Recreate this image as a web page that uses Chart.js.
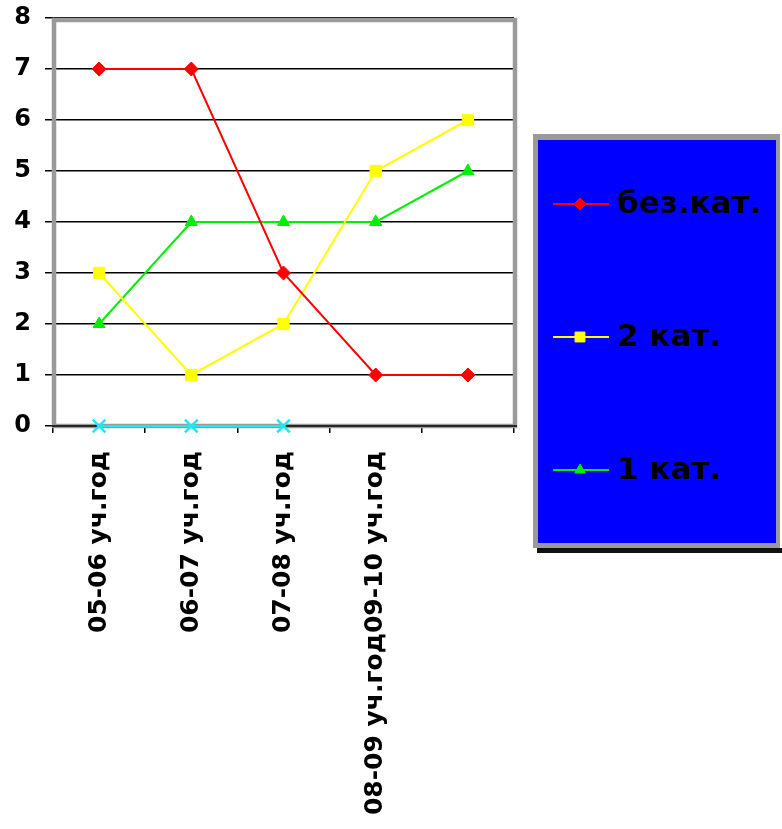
<!DOCTYPE html>
<html>
<head>
<meta charset="utf-8">
<script src="https://cdn.jsdelivr.net/npm/chart.js@4"></script>
<style>
  body { margin: 0; background: #fff; }
  canvas { display: block; }
</style>
</head>
<body>
<canvas id="chart" width="782" height="829"></canvas>
<script>
// data
const years = ['05-06 уч.год', '06-07 уч.год', '07-08 уч.год', '08-09 уч.год09-10 уч.год', ''];
const noCat = [7, 7, 3, 1, 1];
const cat2 = [3, 1, 2, 5, 6];
const cat1 = [2, 4, 4, 4, 5];
const extra = [0, 0, 0, null, null];
const seriesNames = ['без.кат.', '2 кат.', '1 кат.'];
const yMin = 0, yMax = 8, yStep = 1;

const FONT = '"DejaVu Sans", Verdana, sans-serif';

// grey frame round the plot area
const plotFrame = {
    id: 'plotFrame',
    beforeDatasetsDraw(chart) {
        const a = chart.chartArea;
        const ctx = chart.ctx;
        ctx.save();
        ctx.strokeStyle = '#9a9a9a';
        ctx.lineWidth = 4.5;
        ctx.strokeRect(a.left + 1, a.top + 2, a.right - a.left, a.bottom - a.top - 2);
        // axis line on top of the frame
        ctx.strokeStyle = '#000';
        ctx.lineWidth = 1.5;
        ctx.beginPath();
        ctx.moveTo(a.left - 1, a.bottom);
        ctx.lineTo(a.right + 3, a.bottom);
        ctx.stroke();
        ctx.restore();
    }
};

// blue legend box on the right
const sideLegend = {
    id: 'sideLegend',
    afterDraw(chart) {
        const ctx = chart.ctx;
        const box = { x: 533, y: 134, w: 247, h: 414 };
        ctx.save();
        ctx.fillStyle = '#111';
        ctx.fillRect(box.x + 4, box.y + box.h, box.w + 2, 5);
        ctx.fillStyle = '#9a9a9a';
        ctx.fillRect(box.x, box.y, box.w, box.h);
        ctx.fillStyle = '#0000ff';
        ctx.fillRect(box.x + 5, box.y + 6, box.w - 9, box.h - 11);
        for (let i = 0; i < seriesNames.length; i++) {
            const ds = chart.data.datasets[i];
            const cy = 204 + i * 133;
            ctx.strokeStyle = ds.borderColor;
            ctx.lineWidth = 2;
            ctx.beginPath();
            ctx.moveTo(553, cy);
            ctx.lineTo(609, cy);
            ctx.stroke();
            ctx.fillStyle = ds.pointBackgroundColor;
            ctx.strokeStyle = ds.pointBorderColor;
            ctx.lineWidth = 1;
            Chart.helpers.drawPoint(ctx, { pointStyle: ds.pointStyle, radius: ds.pointRadius - 1, rotation: 0, borderWidth: 1 }, 580, cy);
            ctx.fillStyle = '#000';
            ctx.font = 'bold 31px ' + FONT;
            ctx.textBaseline = 'middle';
            ctx.textAlign = 'left';
            ctx.fillText(seriesNames[i], 617, cy + 1);
        }
        ctx.restore();
    }
};

function series(label, data, color, style, radius) {
    return {
        label: label,
        data: data,
        borderColor: color,
        backgroundColor: color,
        pointBackgroundColor: color,
        pointBorderColor: color,
        pointStyle: style,
        pointRadius: radius,
        pointBorderWidth: style === 'crossRot' ? 2.5 : 1,
        borderWidth: 2,
        tension: 0,
        clip: false
    };
}

new Chart(document.getElementById('chart'), {
    type: 'line',
    data: {
        labels: years,
        datasets: [
            series(seriesNames[0], noCat, '#ff0000', 'rectRot', 7),
            series(seriesNames[1], cat2, '#ffff00', 'rect', 8),
            series(seriesNames[2], cat1, '#00ee00', 'triangle', 7),
            series('', extra, '#20e8f0', 'crossRot', 9)
        ]
    },
    options: {
        responsive: false,
        animation: false,
        layout: { padding: { top: 18, right: 268, left: 0, bottom: 0 } },
        plugins: {
            legend: { display: false },
            tooltip: { enabled: false }
        },
        scales: {
            x: {
                offset: true,
                afterFit(scale) {
                    scale.height = 403;
                    scale.paddingLeft = 0;
                    scale.paddingRight = 0;
                },
                grid: {
                    display: true,
                    drawOnChartArea: false,
                    offset: true,
                    color: '#000',
                    tickColor: '#000',
                    tickLength: 7,
                    lineWidth: 1.5
                },
                border: { display: true, color: '#000', width: 1.5 },
                ticks: {
                    autoSkip: false,
                    minRotation: 90,
                    maxRotation: 90,
                    padding: 18,
                    color: '#000',
                    font: { family: FONT, size: 25, weight: 'bold' }
                }
            },
            y: {
                min: yMin,
                max: yMax,
                afterFit(scale) {
                    scale.width = 53;
                    scale.paddingTop = 0;
                    scale.paddingBottom = 0;
                },
                grid: {
                    color: '#000',
                    tickColor: '#000',
                    tickLength: 8,
                    lineWidth: 1.5
                },
                border: { display: true, color: '#000', width: 1.5 },
                ticks: {
                    stepSize: yStep,
                    padding: 14,
                    color: '#000',
                    font: { family: FONT, size: 24, weight: 'bold' }
                }
            }
        }
    },
    plugins: [plotFrame, sideLegend]
});
</script>
</body>
</html>
